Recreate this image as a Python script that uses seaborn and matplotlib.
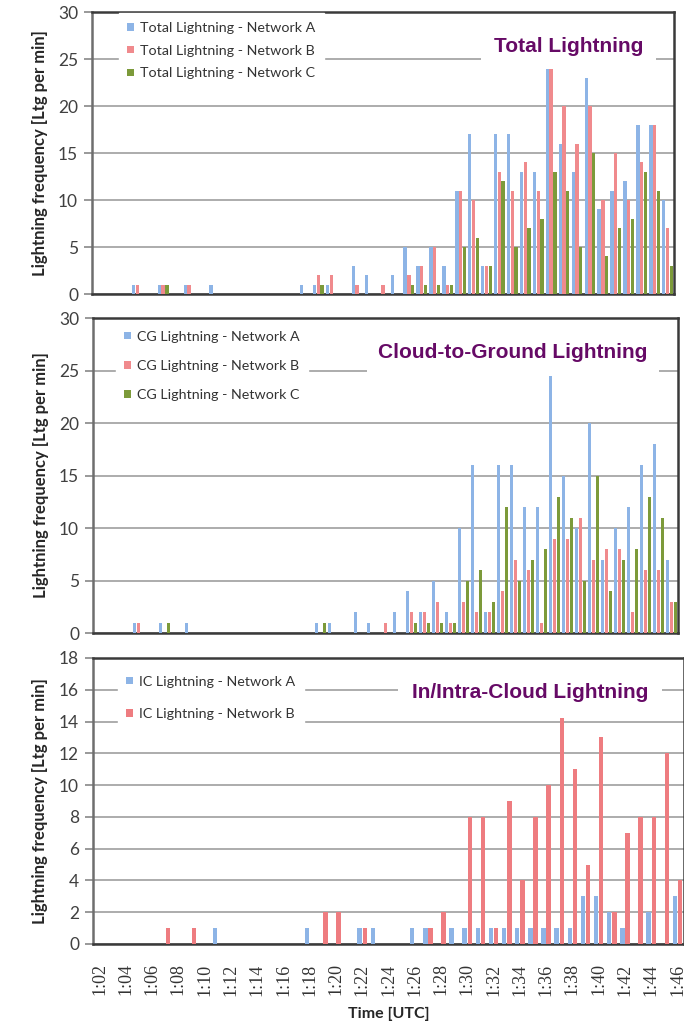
import numpy as np
import pandas as pd
import seaborn as sns
import matplotlib.pyplot as plt
from matplotlib.patches import Patch

# minutes 1:02 .. 1:46
minutes = [f"1:{m:02d}" for m in range(2, 47)]

# Total lightning (per min)
total_a = [0, 0, 0, 1, 0, 1, 0, 1, 0, 1,
           0, 0, 0, 0, 0, 0, 1, 1, 1, 0,
           3, 2, 0, 2, 5, 3, 5, 3, 11, 17,
           3, 17, 17, 13, 13, 25.5, 16, 13, 23, 9,
           11, 12, 18, 18, 10]
total_b = [0, 0, 0, 1, 0, 1, 0, 1, 0, 0,
           0, 0, 0, 0, 0, 0, 0, 2, 2, 0,
           1, 0, 1, 0, 2, 3, 5, 1, 11, 10,
           3, 13, 11, 14, 11, 24, 20, 16, 20, 10,
           15, 10, 14, 18, 7]
total_c = [0, 0, 0, 0, 0, 1, 0, 0, 0, 0,
           0, 0, 0, 0, 0, 0, 0, 1, 0, 0,
           0, 0, 0, 0, 1, 1, 1, 1, 5, 6,
           3, 12, 5, 7, 8, 13, 11, 5, 15, 4,
           7, 8, 13, 11, 3]

# Cloud-to-ground
cg_a = [0, 0, 0, 1, 0, 1, 0, 1, 0, 0,
        0, 0, 0, 0, 0, 0, 0, 1, 1, 0,
        2, 1, 0, 2, 4, 2, 5, 2, 10, 16,
        2, 16, 16, 12, 12, 24.5, 15, 10, 20, 7,
        10, 12, 16, 18, 7]
cg_b = [0, 0, 0, 1, 0, 0, 0, 0, 0, 0,
        0, 0, 0, 0, 0, 0, 0, 0, 0, 0,
        0, 0, 1, 0, 2, 2, 3, 1, 3, 2,
        2, 4, 7, 6, 1, 9, 9, 11, 7, 8,
        8, 2, 6, 6, 3]
cg_c = [0, 0, 0, 0, 0, 1, 0, 0, 0, 0,
        0, 0, 0, 0, 0, 0, 0, 1, 0, 0,
        0, 0, 0, 0, 1, 1, 1, 1, 5, 6,
        3, 12, 5, 7, 8, 13, 11, 5, 15, 4,
        7, 8, 13, 11, 3]

# In/intra-cloud
ic_a = [0, 0, 0, 0, 0, 0, 0, 0, 0, 1,
        0, 0, 0, 0, 0, 0, 1, 0, 0, 0,
        1, 1, 0, 0, 1, 1, 0, 1, 1, 1,
        1, 1, 1, 1, 1, 1, 1, 3, 3, 2,
        1, 0, 2, 0, 3]
ic_b = [0, 0, 0, 0, 0, 1, 0, 1, 0, 0,
        0, 0, 0, 0, 0, 0, 0, 2, 2, 0,
        1, 0, 0, 0, 0, 1, 2, 0, 8, 8,
        1, 9, 4, 8, 10, 14.2, 11, 5, 13, 2,
        7, 8, 8, 12, 4]

BLUE = "#8db4e6"
RED = "#f08a8d"
GREEN = "#7c9a3a"
PURPLE = "#660a66"

sns.set_theme(style="white")
plt.rcParams['font.family'] = ['Lato', 'DejaVu Sans']

W, H = 684, 1022
fig = plt.figure(figsize=(W / 100, H / 100), dpi=100)


def px_axes(x0, y0, x1, y1):
    return fig.add_axes([x0 / W, 1 - y1 / H, (x1 - x0) / W, (y1 - y0) / H])


def panel(ax, series, names, colors, ymax, step, title, title_xy, title_pad,
          leg_anchor, leg_space, width, gap, ylab_x):
    df = pd.DataFrame({
        "time": minutes * len(series),
        "net": np.repeat(names, len(minutes)),
        "val": np.concatenate([np.asarray(s, float) for s in series]),
    })
    sns.barplot(data=df, x="time", y="val", hue="net", order=minutes,
                hue_order=names, palette=colors, width=width, gap=gap,
                saturation=1, linewidth=0, legend=False, ax=ax, zorder=3)
    ax.set_xlim(-0.5, len(minutes) - 0.5)
    ax.set_ylim(0, ymax)
    ax.set_yticks(np.arange(0, ymax + 0.1, step))
    ax.yaxis.grid(True, color="#a6a6a6", lw=1.3)
    ax.xaxis.grid(False)
    ax.set_axisbelow(True)
    ax.set_xticks(range(0, len(minutes), 2))
    ax.set_xticks(np.arange(-0.5, len(minutes)), minor=True)
    ax.tick_params(axis="x", which="major", length=0)
    ax.tick_params(axis="x", which="minor", length=4, color="#888888", width=1)
    ax.tick_params(axis="y", length=6, color="#888888", width=1.2, pad=4,
                   labelsize=12.5, labelcolor="#404040", left=True)
    for sp in ax.spines.values():
        sp.set_visible(True)
        sp.set_color("#3a3a3a")
        sp.set_linewidth(1.8)
    ax.spines["left"].set_color("#6e6e6e")
    ax.set_xlabel("")
    ax.set_ylabel("Lightning frequency [Ltg per min]", fontsize=12,
                  fontweight="bold", color="#262626")
    ax.yaxis.set_label_coords(ylab_x, 0.5)
    handles = [Patch(facecolor=c, edgecolor="none") for c in colors]
    leg = ax.legend(handles, names, loc="upper left", bbox_to_anchor=leg_anchor,
                    borderaxespad=0, frameon=True, facecolor="white",
                    edgecolor="white", framealpha=1, fancybox=False,
                    fontsize=10.3, handlelength=0.45, handleheight=0.45,
                    handletextpad=0.45, labelspacing=leg_space, borderpad=0.6)
    for t in leg.get_texts():
        t.set_color("#333333")
    ax.text(title_xy[0], title_xy[1], title, transform=ax.transAxes,
            ha="right", va="center", fontsize=15, fontweight="bold",
            color=PURPLE, family=["Liberation Sans", "DejaVu Sans"], zorder=6,
            bbox=dict(facecolor="white", edgecolor="none", pad=title_pad))


ax1 = px_axes(92, 12, 674, 294)
panel(ax1, [total_a, total_b, total_c],
      ["Total Lightning - Network A", "Total Lightning - Network B",
       "Total Lightning - Network C"],
      [BLUE, RED, GREEN], 30, 5, "Total Lightning", (0.947, 0.876), 9,
      (0.046, 0.995), 0.75, 0.86, 0.1, -0.075)
ax1.set_xticklabels([])

ax2 = px_axes(93, 318, 678, 633)
panel(ax2, [cg_a, cg_b, cg_c],
      ["CG Lightning - Network A", "CG Lightning - Network B",
       "CG Lightning - Network C"],
      [BLUE, RED, GREEN], 30, 5, "Cloud-to-Ground Lightning", (0.948, 0.891), 8,
      (0.039, 0.987), 1.2, 0.86, 0.1, -0.076)
ax2.set_xticklabels([])

ax3 = px_axes(93, 658, 684, 944)
panel(ax3, [ic_a, ic_b],
      ["IC Lightning - Network A", "IC Lightning - Network B"],
      [BLUE, "#ee7c80"], 18, 2, "In/Intra-Cloud Lightning", (0.94, 0.878), 10,
      (0.042, 0.968), 1.42, 0.8, 0.15, -0.076)
ax3.set_xticklabels(minutes[::2], rotation=90, fontsize=13,
                    family=["Liberation Serif", "DejaVu Serif"], color="#333333")
ax3.tick_params(axis="x", which="major", pad=14)
ax3.set_xlabel("Time [UTC]", fontsize=11.5, fontweight="bold", color="#262626",
               labelpad=8)

fig.savefig("out.png", dpi=100)
